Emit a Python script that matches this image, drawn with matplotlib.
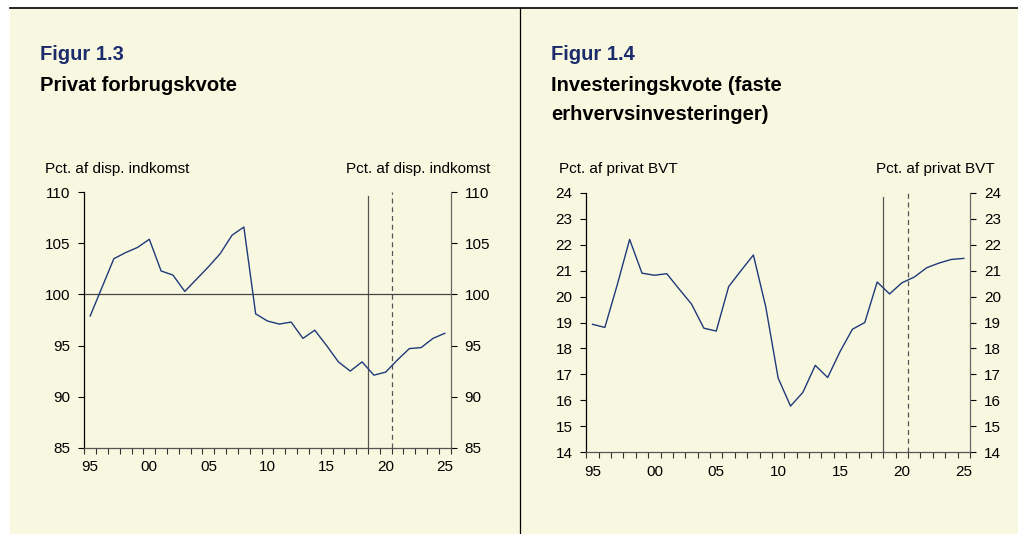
import numpy as np
import matplotlib.pyplot as plt
from matplotlib.patches import Rectangle
from matplotlib.lines import Line2D

# Data
years = np.arange(1995, 2026)
forbrug = [97.9, 100.7, 103.5, 104.1, 104.6, 105.4, 102.3, 101.9, 100.3, 101.5,
           102.7, 104.0, 105.8, 106.6, 98.1, 97.4, 97.1, 97.3, 95.7, 96.5,
           95.0, 93.4, 92.5, 93.4, 92.1, 92.4, 93.6, 94.7, 94.8, 95.7, 96.2]
invest = [18.93, 18.81, 20.45, 22.2, 20.9, 20.82, 20.88, 20.29, 19.71, 18.78,
          18.67, 20.38, 21.0, 21.6, 19.6, 16.86, 15.78, 16.31, 17.35, 16.88,
          17.88, 18.74, 19.0, 20.56, 20.1, 20.53, 20.75, 21.11, 21.29, 21.43, 21.47]
xlabels = ['95', '00', '05', '10', '15', '20', '25']
xlabel_years = [1995, 2000, 2005, 2010, 2015, 2020, 2025]
vline_solid, vline_dash = 2018.5, 2020.5

bg = '#F8F8E1'
navy = '#1F3A7A'
title_clr = '#1B2B6B'
plt.rcParams['font.family'] = ['Liberation Sans', 'DejaVu Sans']
fs = 11
tfs = 14.5

fig = plt.figure(figsize=(10.18, 5.34), dpi=100)
fig.patch.set_facecolor('white')
fig.patches.append(Rectangle((10/1018, 0), 1 - 10/1018, 1 - 9/534, transform=fig.transFigure,
                             facecolor=bg, edgecolor='none', zorder=-5))
fig.lines.append(Line2D([10/1018, 1], [1 - 8/534, 1 - 8/534], transform=fig.transFigure,
                        color='black', lw=1.2, zorder=-4))
fig.lines.append(Line2D([520/1018, 520/1018], [0, 1 - 8/534], transform=fig.transFigure,
                        color='black', lw=0.9, zorder=-4))


def panel(rect, y, ylim, yticks, unit):
    ax = fig.add_axes(rect)
    ax.set_facecolor('none')
    ax.plot(years, y, color=navy, lw=1.0, zorder=3)
    ax.set_xlim(1994.5, 2025.5)
    ax.set_ylim(*ylim)
    ax.set_yticks(yticks)
    ax.set_xticks(xlabel_years)
    ax.set_xticklabels(xlabels)
    ax.set_xticks(np.arange(1994.5, 2026, 1), minor=True)
    ax.tick_params(axis='x', which='major', length=0, pad=9, labelsize=fs)
    ax.tick_params(axis='x', which='minor', length=4, direction='out', width=0.8, color='#333333')
    ax.tick_params(axis='y', length=4, direction='out', labelsize=fs, width=0.8,
                   left=True, right=True, labelleft=True, labelright=True, pad=6)
    ax.spines['top'].set_visible(False)
    ax.spines['left'].set_color('black')
    ax.spines['right'].set_color('#666666')
    ax.spines['bottom'].set_color('#555555')
    for s in ax.spines.values():
        s.set_linewidth(0.9)
    ax.axvline(vline_solid, ymax=0.985, color='#555555', lw=0.9)
    ax.axvline(vline_dash, color='#555555', lw=0.9, ls=(0, (4, 3)))
    ax.text(-0.11, 1.065, unit, transform=ax.transAxes, fontsize=fs, ha='left', va='bottom')
    ax.text(1.11, 1.065, unit, transform=ax.transAxes, fontsize=fs, ha='right', va='bottom')
    return ax


ax1 = panel([84.3/1018, 1 - 447.7/534, 366.4/1018, 255.4/534], forbrug, (85, 110),
            np.arange(85, 111, 5), 'Pct. af disp. indkomst')
ax1.axhline(100, color='#444444', lw=0.9, zorder=2)
ax1.texts[0].set_x(-0.107)
ax1.texts[1].set_x(1.108)

ax2 = panel([586.3/1018, 1 - 452.3/534, 383.7/1018, 259.6/534], invest, (14, 24),
            np.arange(14, 25, 1), 'Pct. af privat BVT')
ax2.texts[0].set_x(-0.07)
ax2.texts[1].set_x(1.065)

# Titles
fig.text(40/1018, 1 - 55/534, 'Figur 1.3', color=title_clr, fontsize=tfs, fontweight='bold',
         va='center')
fig.text(40/1018, 1 - 85/534, 'Privat forbrugskvote', color='black', fontsize=tfs,
         fontweight='bold', va='center')
fig.text(551/1018, 1 - 55/534, 'Figur 1.4', color=title_clr, fontsize=tfs, fontweight='bold',
         va='center')
fig.text(551/1018, 1 - 85/534, 'Investeringskvote (faste', color='black', fontsize=tfs,
         fontweight='bold', va='center')
fig.text(551/1018, 1 - 114/534, 'erhvervsinvesteringer)', color='black', fontsize=tfs,
         fontweight='bold', va='center')

fig.savefig('out.png', dpi=100, facecolor=fig.get_facecolor())
